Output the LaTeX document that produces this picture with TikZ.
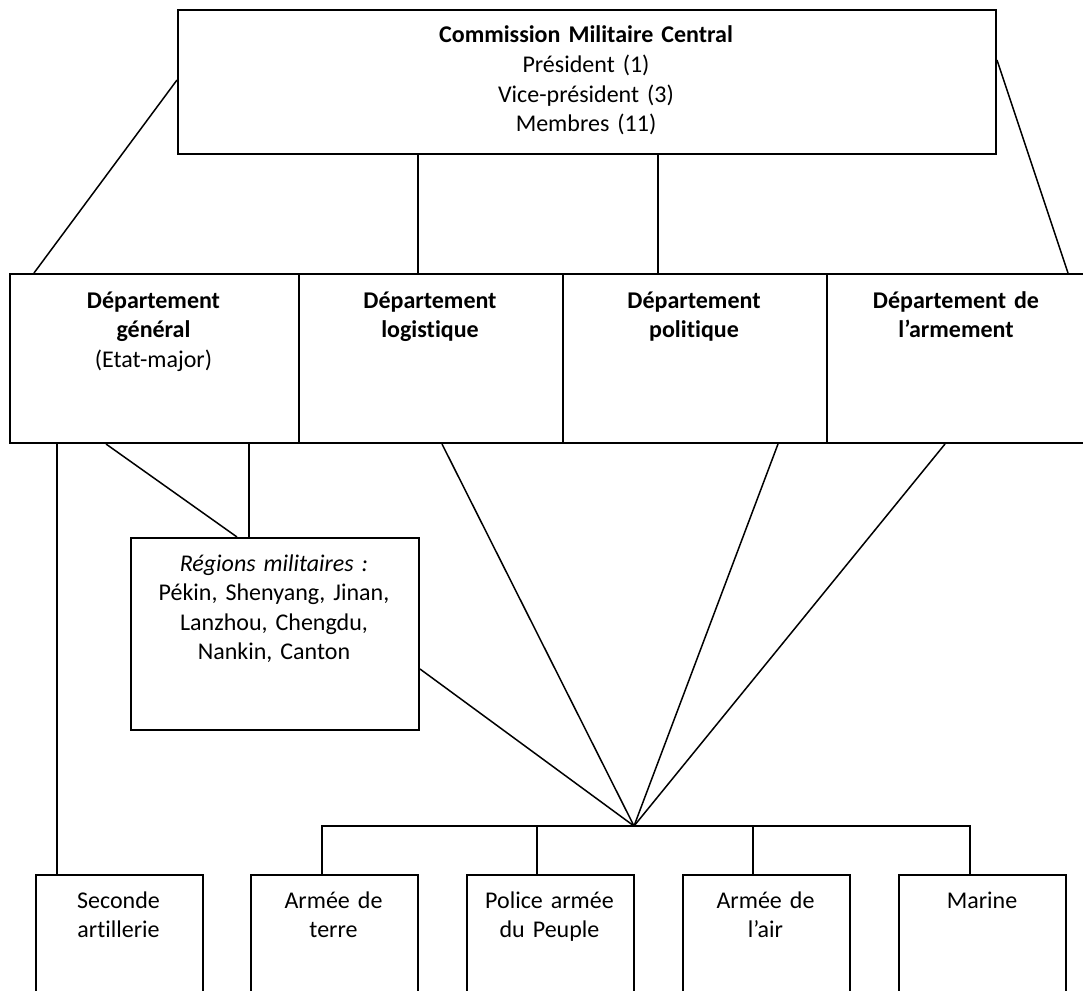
\documentclass[tikz,border=0pt]{standalone}
\usepackage{fontspec}
\setmainfont{Carlito}[Ligatures=NoCommon]
\begin{document}
\begin{tikzpicture}[x=1pt,y=-1pt,
  box/.style={draw, line width=2pt, rectangle, inner sep=0pt, anchor=north west},
  conn/.style={line width=1.5pt},
  txt/.style={inner sep=0pt, align=center, text width=#1, anchor=base,
    font=\fontsize{24}{29.5}\selectfont},
]
\clip (0,0) rectangle (1083,990);
\path[use as bounding box] (0,0) rectangle (1083,990);

% boxes
\node[box, minimum width=818, minimum height=144] (cmc) at (177,9) {};
\node[box, minimum width=289, minimum height=169] (d1) at (9,273) {};
\node[box, minimum width=264, minimum height=169] (d2) at (298,273) {};
\node[box, minimum width=264, minimum height=169] (d3) at (562,273) {};
\node[box, minimum width=260, minimum height=169] (d4) at (826,273) {};
\node[box, minimum width=288, minimum height=192] (reg) at (130,537) {};
\node[box, minimum width=167, minimum height=150] (b1) at (35,874) {};
\node[box, minimum width=167, minimum height=150] (b2) at (250,874) {};
\node[box, minimum width=167, minimum height=150] (b3) at (466,874) {};
\node[box, minimum width=167, minimum height=150] (b4) at (682,874) {};
\node[box, minimum width=167, minimum height=150] (b5) at (898,874) {};

% texts
\node[txt=600] (tcmc) at (586,43) {\textbf{Commission Militaire Central}\\Président (1)\\Vice-président (3)\\Membres (11)};
\node[txt=260] (td1) at (153.5,308) {\textbf{Département}\\\textbf{général}\\(Etat-major)};
\node[txt=250] (td2) at (430,308) {\textbf{Département}\\\textbf{logistique}};
\node[txt=250] (td3) at (694,308) {\textbf{Département}\\\textbf{politique}};
\node[txt=250] (td4) at (956,308) {\textbf{Département de}\\\textbf{l’armement}};
\node[txt=280] (treg) at (274,571) {\textit{Régions militaires :}\\Pékin, Shenyang, Jinan,\\Lanzhou, Chengdu,\\Nankin, Canton};
\node[txt=160] (tb1) at (118.5,908) {Seconde\\artillerie};
\node[txt=160] (tb2) at (333.5,908) {Armée de\\terre};
\node[txt=160] (tb3) at (549.5,908) {Police armée\\du Peuple};
\node[txt=160] (tb4) at (765.5,908) {Armée de\\l’air};
\node[txt=160] (tb5) at (982,908) {Marine};

% junction
\coordinate (j) at (634,826);

% connectors
\draw[conn] ([yshift=-71pt]cmc.north west) -- ([xshift=25pt]d1.north west);
\draw[conn] ([yshift=-51pt]cmc.north east) -- ([xshift=-20pt]d4.north east);
\draw[conn] ([xshift=241pt]cmc.south west) -- ([xshift=120pt]d2.north west);
\draw[conn] ([xshift=481pt]cmc.south west) -- ([xshift=96pt]d3.north west);
\draw[conn] ([xshift=48pt]d1.south west) -- ([xshift=22pt]b1.north west);
\draw[conn] ([xshift=97pt]d1.south west) -- ([xshift=107pt]reg.north west);
\draw[conn] ([xshift=240pt]d1.south west) -- ([xshift=119pt]reg.north west);
\draw[conn] ([xshift=144pt]d2.south west) -- (j);
\draw[conn] ([xshift=216pt]d3.south west) -- (j);
\draw[conn] ([xshift=119pt]d4.south west) -- (j);
\draw[conn] ([yshift=-132pt]reg.north east) -- (j);
\draw[conn] ([xshift=72pt]b2.north west) |- (j) -| ([xshift=72pt]b5.north west);
\draw[conn] ([xshift=71pt]b3.north west) -- ++(0,-48);
\draw[conn] ([xshift=71pt]b4.north west) -- ++(0,-48);
\end{tikzpicture}
\end{document}
